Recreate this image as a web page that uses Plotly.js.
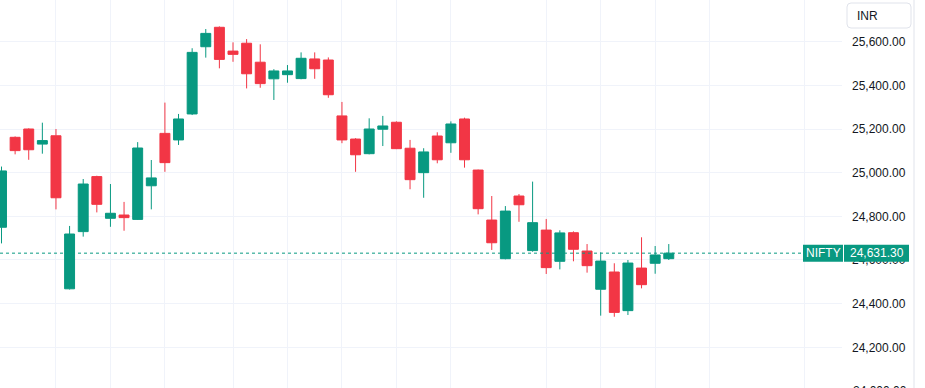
<!DOCTYPE html>
<html>
<head>
<meta charset="utf-8">
<script src="https://cdn.plot.ly/plotly-3.0.1.min.js"></script>
<style>
  html, body { margin: 0; padding: 0; background: #ffffff; }
  #chart { width: 925px; height: 388px; }
</style>
</head>
<body>
<div id="chart"></div>
<script>
// ---- Data (NIFTY daily candles) ----
const openPx  = [24750, 25162, 25200, 25131, 25169, 24468, 24730, 24982, 24791, 24806,
                 24786, 24940, 25180, 25150, 25269, 25577, 25666, 25557, 25593, 25506,
                 25430, 25449, 25431, 25521, 25516, 25260, 25154, 25087, 25199, 25231,
                 25112, 25000, 25168, 25137, 25246, 25012, 24783, 24606, 24893, 24643,
                 24737, 24594, 24725, 24641, 24466, 24545, 24368, 24563, 24585, 24606];
const highPx  = [25028, 25166, 25203, 25229, 25200, 24756, 24971, 24986, 24948, 24866,
                 25140, 25058, 25321, 25269, 25570, 25658, 25670, 25597, 25612, 25588,
                 25474, 25493, 25551, 25551, 25528, 25324, 25158, 25249, 25260, 25235,
                 25150, 25112, 25185, 25235, 25252, 25014, 24893, 24847, 24902, 24959,
                 24788, 24736, 24731, 24673, 24635, 24585, 24600, 24704, 24664, 24673];
const lowPx   = [24676, 25084, 25059, 25087, 24832, 24465, 24707, 24818, 24752, 24734,
                 24784, 24832, 25004, 25127, 25264, 25527, 25478, 25508, 25386, 25389,
                 25333, 25412, 25428, 25430, 25343, 25135, 25004, 25084, 25122, 25108,
                 24924, 24885, 25043, 25091, 25023, 24809, 24646, 24603, 24775, 24638,
                 24536, 24557, 24594, 24542, 24345, 24340, 24348, 24470, 24537, 24600];
const closePx = [25008, 25101, 25105, 25147, 24885, 24719, 24948, 24855, 24814, 24794,
                 25113, 24976, 25046, 25246, 25551, 25638, 25519, 25542, 25453, 25408,
                 25466, 25466, 25524, 25476, 25357, 25150, 25082, 25200, 25214, 25110,
                 24968, 25095, 25059, 25223, 25059, 24835, 24679, 24824, 24853, 24771,
                 24565, 24724, 24649, 24574, 24595, 24360, 24586, 24487, 24623, 24631.30];
// session positions where the vertical grid lines fall
const gridSessions = [4, 8, 12, 17, 21, 25, 29, 33, 40, 44, 48, 52, 59];
const priceTicks = [24000, 24200, 24400, 24600, 24800, 25000, 25200, 25400, 25600, 25800];
const symbol = "NIFTY";
const currency = "INR";

// ---- Styling ----
const UP = "#089981", DOWN = "#F23645", GRID = "#f0f3fa", TXT = "#131722";
const W = 925, H = 388, PLOT_R = 842;
const Y_RANGE = [24013.6, 25791];
const px2paperX = p => p / PLOT_R;
const px2paperY = p => 1 - p / H;
const val2paperY = v => (v - Y_RANGE[0]) / (Y_RANGE[1] - Y_RANGE[0]);

const sessions = openPx.map((_, i) => i);
const lastClose = closePx[closePx.length - 1];
const fmt = v => v.toLocaleString("en-US", {minimumFractionDigits: 2, maximumFractionDigits: 2});

const trace = {
  type: "candlestick",
  x: sessions, open: openPx, high: highPx, low: lowPx, close: closePx,
  increasing: {line: {color: UP, width: 1}, fillcolor: UP},
  decreasing: {line: {color: DOWN, width: 1}, fillcolor: DOWN},
  whiskerwidth: 0,
  hoverinfo: "skip",
  showlegend: false
};

// rounded rect path in paper coords
function roundRect(x0, y0, x1, y1, r) {
  const X = px2paperX, Y = px2paperY;
  return `M ${X(x0 + r)} ${Y(y0)} L ${X(x1 - r)} ${Y(y0)} Q ${X(x1)} ${Y(y0)} ${X(x1)} ${Y(y0 + r)} ` +
         `L ${X(x1)} ${Y(y1 - r)} Q ${X(x1)} ${Y(y1)} ${X(x1 - r)} ${Y(y1)} ` +
         `L ${X(x0 + r)} ${Y(y1)} Q ${X(x0)} ${Y(y1)} ${X(x0)} ${Y(y1 - r)} ` +
         `L ${X(x0)} ${Y(y0 + r)} Q ${X(x0)} ${Y(y0)} ${X(x0 + r)} ${Y(y0)} Z`;
}

// tick values just below the visible range: their labels are partly cut at the bottom edge
const cutTicks = priceTicks.filter(v => v < Y_RANGE[0]);

const layout = {
  width: W, height: H,
  margin: {l: 0, r: W - PLOT_R, t: 0, b: 0, pad: 0},
  paper_bgcolor: "#ffffff", plot_bgcolor: "#ffffff",
  showlegend: false,
  boxgap: 0.27, boxgroupgap: 0,
  font: {family: "Liberation Sans, Arial, sans-serif", size: 12, color: TXT},
  xaxis: {
    range: [-0.11, 61.72],
    tickmode: "array", tickvals: gridSessions, showticklabels: false, ticks: "",
    showgrid: true, gridcolor: GRID, gridwidth: 1,
    zeroline: false, showline: false, fixedrange: true,
    rangeslider: {visible: false}, automargin: false
  },
  yaxis: {
    side: "right",
    range: Y_RANGE,
    tickmode: "array", tickvals: priceTicks, ticktext: priceTicks.map(fmt),
    ticks: "", ticklabelstandoff: 9,
    tickfont: {family: "Liberation Sans, Arial, sans-serif", size: 12, color: TXT},
    showgrid: true, gridcolor: GRID, gridwidth: 1,
    zeroline: false, showline: false, fixedrange: true, automargin: false
  },
  shapes: [
    // price scale border
    {type: "line", xref: "paper", yref: "paper", x0: px2paperX(914), x1: px2paperX(914), y0: 0, y1: 1,
     line: {color: "#e0e3eb", width: 1}, layer: "above"},
    // last price dotted line
    {type: "line", xref: "paper", yref: "y", x0: 0, x1: px2paperX(803), y0: lastClose, y1: lastClose,
     line: {color: UP, width: 1, dash: "dot"}, layer: "above"},
    // symbol label box
    {type: "rect", xref: "paper", yref: "y", ysizemode: "pixel", yanchor: lastClose,
     x0: px2paperX(803), x1: px2paperX(843), y0: -8.5, y1: 8.5,
     fillcolor: UP, line: {width: 0}, layer: "above"},
    // price label box
    {type: "rect", xref: "paper", yref: "y", ysizemode: "pixel", yanchor: lastClose,
     x0: px2paperX(844), x1: px2paperX(909), y0: -8.5, y1: 8.5,
     fillcolor: UP, line: {width: 0}, layer: "above"},
    // currency box
    {type: "path", xref: "paper", yref: "paper", path: roundRect(847, 3, 911, 28, 4),
     fillcolor: "#ffffff", line: {color: "#e0e3eb", width: 1}, layer: "above"}
  ],
  annotations: [
    {xref: "paper", yref: "y", x: px2paperX(823), y: lastClose, text: symbol, showarrow: false,
     xanchor: "center", yanchor: "middle", font: {color: "#ffffff", size: 12}},
    {xref: "paper", yref: "y", x: px2paperX(876.5), y: lastClose, text: fmt(lastClose), showarrow: false,
     xanchor: "center", yanchor: "middle", font: {color: "#ffffff", size: 12}},
    {xref: "paper", yref: "paper", x: px2paperX(855), y: px2paperY(16), text: currency, showarrow: false,
     xanchor: "left", yanchor: "middle", font: {color: TXT, size: 12}}
  ].concat(cutTicks.map(v => ({
    xref: "paper", yref: "paper", x: px2paperX(851), y: val2paperY(v), text: fmt(v), showarrow: false,
    xanchor: "left", yanchor: "middle", font: {color: TXT, size: 12}
  })))
};

Plotly.newPlot("chart", [trace], layout, {staticPlot: true, displayModeBar: false});
</script>
</body>
</html>
